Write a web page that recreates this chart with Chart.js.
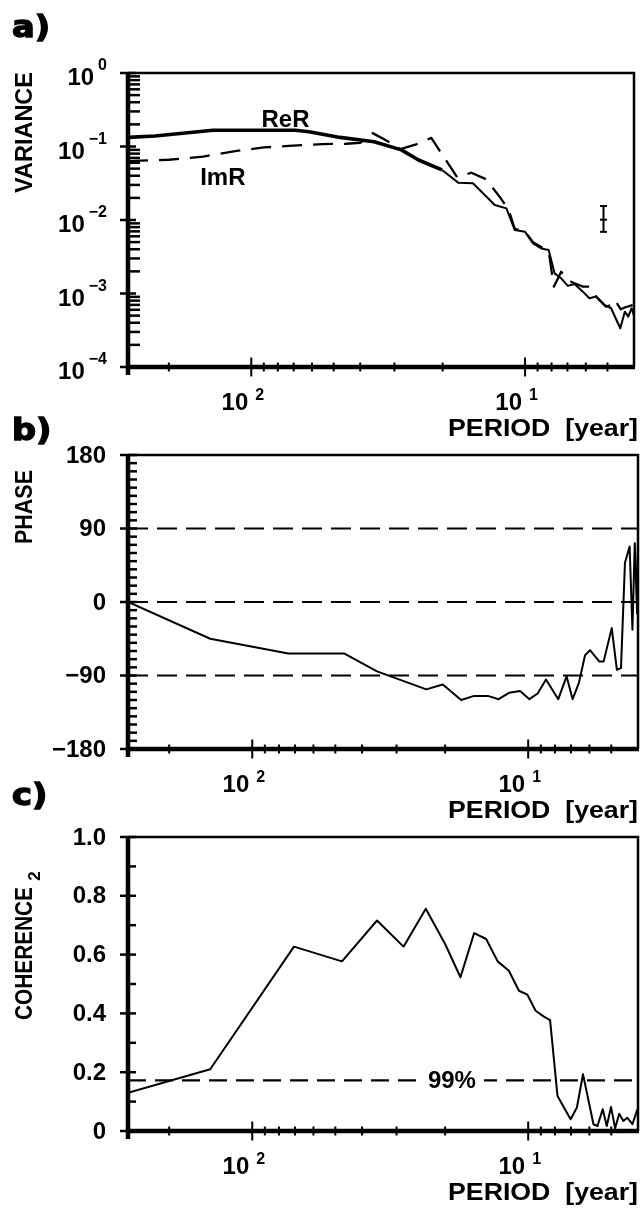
<!DOCTYPE html>
<html>
<head>
<meta charset="utf-8">
<script src="https://cdn.jsdelivr.net/npm/chart.js@4.4.1/dist/chart.umd.min.js"></script>
<style>
  html, body { margin: 0; padding: 0; background: #fff; }
  #page { position: relative; width: 640px; height: 1208px; overflow: hidden; }
  #page canvas { position: absolute; left: 0; }
</style>
</head>
<body>
<div id="page">
  <canvas id="panelA" width="640" height="444" style="top:0px"></canvas>
  <canvas id="panelB" width="640" height="444" style="top:382px"></canvas>
  <canvas id="panelC" width="640" height="444" style="top:764px"></canvas>
</div>
<script>
// ---- period axis (years), shared by the three panels ----
const periodMin = 4;
const periodMax = 282;
const periodMajor = [100, 10];
const periodMinor = [200, 90, 80, 70, 60, 50, 40, 30, 20, 9, 8, 7, 6, 5];

// ---- a) variance of the real and imaginary parts ----
const rerPeriod = [282, 225, 138, 69, 61.5, 47.4, 35.6, 28.3, 24.5, 20.1, 17.5, 15.5, 12.9, 11.7, 10.9, 10.0, 9.35, 8.73, 8.2, 7.8, 7.38, 6.98, 6.6, 6.15, 5.82, 5.5, 5.13, 4.85, 4.49, 4.32, 4.2, 4.08, 4.0];
const rerVariance = [0.133, 0.139, 0.166, 0.166, 0.159, 0.133, 0.116, 0.09, 0.0655, 0.048, 0.032, 0.0316, 0.016, 0.0144, 0.0073, 0.0069, 0.0048, 0.0041, 0.0039, 0.00188, 0.00161, 0.00127, 0.00135, 0.00106, 0.00086, 0.00091, 0.0007, 0.00063, 0.000337, 0.000566, 0.000484, 0.00063, 0.0005];
const imrPeriod = [282, 200, 150, 113, 90, 73, 55, 45, 40, 36, 32, 28.5, 25, 22, 17.7, 15.7, 13.9, 12.3, 11.5, 10.9, 10.0, 9.35, 8.73, 8.2, 7.85, 7.38, 7.0, 6.6, 6.15, 5.82, 5.57, 5.06, 4.85, 4.7, 4.47, 4.3, 4.08, 4.0];
const imrVariance = [0.0634, 0.066, 0.073, 0.087, 0.097, 0.102, 0.108, 0.109, 0.112, 0.152, 0.12, 0.092, 0.107, 0.131, 0.038, 0.044, 0.036, 0.02, 0.014, 0.0076, 0.0069, 0.005, 0.0043, 0.0038, 0.00124, 0.00198, 0.00153, 0.00138, 0.00124, 0.00124, 0.00095, 0.00066, 0.0007, 0.00082, 0.00061, 0.00065, 0.00069, 0.00072];
const errorBarPeriod = 5.17;
const errorBarVariance = [0.0069, 0.0101, 0.0155];
const varianceMajor = [1, 0.1, 0.01, 0.001, 0.0001];

// ---- b) phase ----
const phasePeriod = [282, 142, 74, 46.5, 35.3, 23.4, 20.4, 17.5, 15.7, 14.0, 12.8, 11.7, 10.7, 9.9, 9.24, 8.62, 7.78, 7.26, 6.9, 6.55, 6.22, 5.97, 5.52, 5.33, 4.98, 4.77, 4.61, 4.46, 4.29, 4.19, 4.11, 4.03, 4.0];
const phaseDeg = [0, -45, -63, -63, -85, -107, -101, -120, -115, -115, -119, -111, -109, -119, -112, -95, -119, -91, -119, -99, -65, -59, -73, -73, -32, -83, -81, 48, 68, -34, 72, -14, 80];
const phaseRefLines = [90, 0, -90];
const phaseTicks = [180, 90, 0, -90, -180];
const phaseTickLabels = ['180', '90', '0', '\u221290', '\u2212180'];

// ---- c) squared coherence ----
const cohPeriod = [282, 142, 70.6, 47.3, 35.3, 28.3, 23.5, 20.0, 17.6, 15.7, 14.2, 12.9, 11.75, 10.8, 10.07, 9.4, 8.77, 8.33, 7.83, 7.02, 6.66, 6.33, 5.8, 5.61, 5.37, 5.19, 5.01, 4.84, 4.68, 4.52, 4.37, 4.19, 4.02];
const cohValue = [0.13, 0.21, 0.627, 0.577, 0.716, 0.627, 0.756, 0.636, 0.523, 0.673, 0.653, 0.577, 0.545, 0.477, 0.464, 0.409, 0.389, 0.377, 0.119, 0.04, 0.08, 0.193, 0.023, 0.017, 0.074, 0.017, 0.082, 0.009, 0.059, 0.034, 0.045, 0.023, 0.074];
const coh99 = 0.172;
const cohTicks = [0, 0.2, 0.4, 0.6, 0.8, 1.0];
const cohTickLabels = ['0', '0.2', '0.4', '0.6', '0.8', '1.0'];

const FONT = "'Liberation Sans', Arial, sans-serif";
const pts = (xs, ys) => xs.map((x, i) => ({ x, y: ys[i] }));
const hline = (v) => [{ x: periodMax, y: v }, { x: periodMin, y: v }];

function drawLine(ctx, x1, y1, x2, y2) {
  ctx.beginPath(); ctx.moveTo(x1, y1); ctx.lineTo(x2, y2); ctx.stroke();
}

// text squeezed or stretched horizontally to a given width
function fitText(ctx, text, x, y, width, align) {
  const w = ctx.measureText(text).width;
  ctx.save();
  ctx.translate(x, y);
  ctx.scale(width / w, 1);
  ctx.textAlign = align;
  ctx.fillText(text, 0, 0);
  ctx.restore();
}

// Frame, inward ticks, labels and titles in the style of the figure
const panelAxes = {
  id: 'panelAxes',
  afterDatasetsDraw(chart) {
    const o = chart.options.plugins.panelAxes;
    const { ctx, chartArea: a } = chart;
    const xs = chart.scales.x, ys = chart.scales.y;
    ctx.save();
    ctx.fillStyle = '#000';
    ctx.strokeStyle = '#000';
    ctx.lineCap = 'butt';

    // frame
    ctx.lineWidth = 2.5;
    ctx.beginPath(); ctx.moveTo(a.left, a.top); ctx.lineTo(a.right, a.top); ctx.lineTo(a.right, a.bottom); ctx.stroke();
    ctx.lineWidth = 4.5;
    drawLine(ctx, a.left, a.top - 1, a.left, a.bottom + 8);
    drawLine(ctx, a.left - 2, a.bottom, a.right + 1, a.bottom);

    // period ticks
    ctx.lineWidth = 2;
    periodMajor.forEach(v => { const p = xs.getPixelForValue(v); drawLine(ctx, p, a.bottom - 9.5, p, a.bottom + 9.5); });
    periodMinor.forEach(v => { const p = xs.getPixelForValue(v); drawLine(ctx, p, a.bottom - 4.5, p, a.bottom + 4.5); });

    // value ticks
    ctx.lineWidth = 2.5;
    o.yMajor.forEach(v => { const p = ys.getPixelForValue(v); drawLine(ctx, a.left - 8, p, a.left + o.majorIn, p); });
    o.yMinor.forEach(v => { const p = ys.getPixelForValue(v); drawLine(ctx, a.left, p, a.left + o.minorIn, p); });

    // period tick labels 10^2, 10^1
    ctx.textBaseline = 'alphabetic';
    periodMajor.forEach(v => {
      const p = xs.getPixelForValue(v);
      ctx.font = 'bold 24px ' + FONT; ctx.textAlign = 'right';
      ctx.fillText('10', p - 3, a.bottom + 43);
      ctx.font = 'bold 16px ' + FONT; ctx.textAlign = 'left';
      ctx.fillText(String(Math.round(Math.log10(v))), p + 4, a.bottom + 33);
    });

    // value tick labels
    if (o.powLabels) {
      o.yMajor.forEach(v => {
        const p = ys.getPixelForValue(v);
        const e = Math.round(Math.log10(v));
        const es = e === 0 ? '0' : '\u2212' + Math.abs(e);
        ctx.font = 'bold 16px ' + FONT; ctx.textAlign = 'right';
        ctx.fillText(es, 107, p - 3);
        const w = ctx.measureText(es).width;
        ctx.font = 'bold 24px ' + FONT;
        ctx.fillText('10', 107 - w - 4, p + 12);
      });
    } else {
      ctx.font = 'bold 24px ' + FONT; ctx.textAlign = 'right'; ctx.textBaseline = 'middle';
      o.yLabels.forEach((t, i) => ctx.fillText(t, 106, ys.getPixelForValue(o.yMajor[i]) + 1));
      ctx.textBaseline = 'alphabetic';
    }

    // period axis title
    ctx.font = 'bold 24px ' + FONT;
    fitText(ctx, 'PERIOD  [year]', 638, a.bottom + 69, 190, 'right');

    // panel letter
    ctx.font = 'bold 30px "DejaVu Sans", sans-serif';
    ctx.lineWidth = 1.4;
    ctx.save();
    ctx.translate(12, o.letterY);
    ctx.scale(1.12, 1);
    ctx.textAlign = 'left';
    ctx.fillText(o.letter, 0, 0);
    ctx.strokeText(o.letter, 0, 0);
    ctx.restore();

    // rotated value-axis title
    ctx.save();
    ctx.translate(o.titleX, o.titleTop);
    ctx.rotate(-Math.PI / 2);
    ctx.font = 'bold 23px ' + FONT; ctx.textBaseline = 'middle';
    fitText(ctx, o.title, 0, 0, o.titleLen, 'right');
    ctx.restore();
    if (o.titleSup) {
      ctx.save();
      ctx.translate(o.titleX + 9, o.titleTop - 11);
      ctx.rotate(-Math.PI / 2);
      ctx.font = 'bold 17px ' + FONT; ctx.textAlign = 'center'; ctx.textBaseline = 'middle';
      ctx.fillText(o.titleSup, 0, 0);
      ctx.restore();
    }

    // in-plot annotations
    (o.notes || []).forEach(n => {
      const px = xs.getPixelForValue(n.x), py = ys.getPixelForValue(n.y);
      ctx.font = 'bold 24px ' + FONT; ctx.textAlign = 'center'; ctx.textBaseline = 'middle';
      if (n.clear) {
        const w = ctx.measureText(n.text).width;
        ctx.fillStyle = '#fff';
        ctx.fillRect(px - w / 2 - 8, py - 6, w + 16, 12);
        ctx.fillStyle = '#000';
      }
      ctx.fillText(n.text, px, py + 1);
    });
    ctx.restore();
  }
};

function makePanel(id, datasets, yScale, axes) {
  return new Chart(document.getElementById(id), {
    type: 'scatter',
    data: { datasets },
    options: {
      responsive: false,
      animation: false,
      devicePixelRatio: 1,
      layout: { padding: { left: 128, right: 2, top: 73, bottom: 77 } },
      plugins: { legend: { display: false }, tooltip: { enabled: false }, panelAxes: axes },
      scales: {
        x: { type: 'logarithmic', reverse: true, min: periodMin, max: periodMax, display: false },
        y: Object.assign({ display: false }, yScale)
      },
      elements: {
        point: { radius: 0 },
        line: { tension: 0, borderColor: '#000', borderJoinStyle: 'round', borderCapStyle: 'butt' }
      }
    },
    plugins: [panelAxes]
  });
}

// minor ticks of the value axes
const varianceMinor = [];
[0.0001, 0.001, 0.01, 0.1].forEach(d => { for (let k = 2; k <= 9; k++) varianceMinor.push(d * k); });
const phaseMinor = [];
for (let v = -170; v <= 170; v += 10) if (v % 90 !== 0) phaseMinor.push(v);
const cohMinor = [0.1, 0.3, 0.5, 0.7, 0.9];

// a) variance
makePanel('panelA', [
  { data: pts(rerPeriod, rerVariance), showLine: true, borderWidth: 2,
    segment: { borderWidth: c => (c.p0.parsed.x > 22 ? 3.6 : 2) } },
  { data: pts(imrPeriod, imrVariance), showLine: true, borderWidth: 2.3, borderDash: [20, 11] },
  { data: errorBarVariance.map(v => ({ x: errorBarPeriod, y: v })), showLine: true, borderWidth: 2,
    pointStyle: 'line', pointRadius: 3.5, pointBorderWidth: 2, pointBorderColor: '#000' }
], { type: 'logarithmic', min: 0.0001, max: 1 }, {
  yMajor: varianceMajor, yMinor: varianceMinor, majorIn: 8, minorIn: 12, powLabels: true,
  letter: 'a)', letterY: 37, title: 'VARIANCE', titleX: 26, titleTop: 72, titleLen: 121,
  notes: [{ text: 'ReR', x: 75, y: 0.237 }, { text: 'ImR', x: 127, y: 0.0385 }]
});

// b) phase
makePanel('panelB', [
  { data: pts(phasePeriod, phaseDeg), showLine: true, borderWidth: 2 },
  ...phaseRefLines.map(v => ({ data: hline(v), showLine: true, borderWidth: 2.2, borderDash: [20, 9] }))
], { min: -180, max: 180 }, {
  yMajor: phaseTicks, yLabels: phaseTickLabels, yMinor: phaseMinor, majorIn: 9, minorIn: 9,
  letter: 'b)', letterY: 58, title: 'PHASE', titleX: 26, titleTop: 88, titleLen: 74
});

// c) squared coherence with the 99% level
makePanel('panelC', [
  { data: pts(cohPeriod, cohValue), showLine: true, borderWidth: 2 },
  { data: hline(coh99), showLine: true, borderWidth: 2.2, borderDash: [18, 9] }
], { min: 0, max: 1 }, {
  yMajor: cohTicks, yLabels: cohTickLabels, yMinor: cohMinor, majorIn: 8, minorIn: 8,
  letter: 'c)', letterY: 41, title: 'COHERENCE', titleX: 26, titleTop: 123, titleLen: 133, titleSup: '2',
  notes: [{ text: '99%', x: 18.9, y: coh99, clear: true }]
});
</script>
</body>
</html>
